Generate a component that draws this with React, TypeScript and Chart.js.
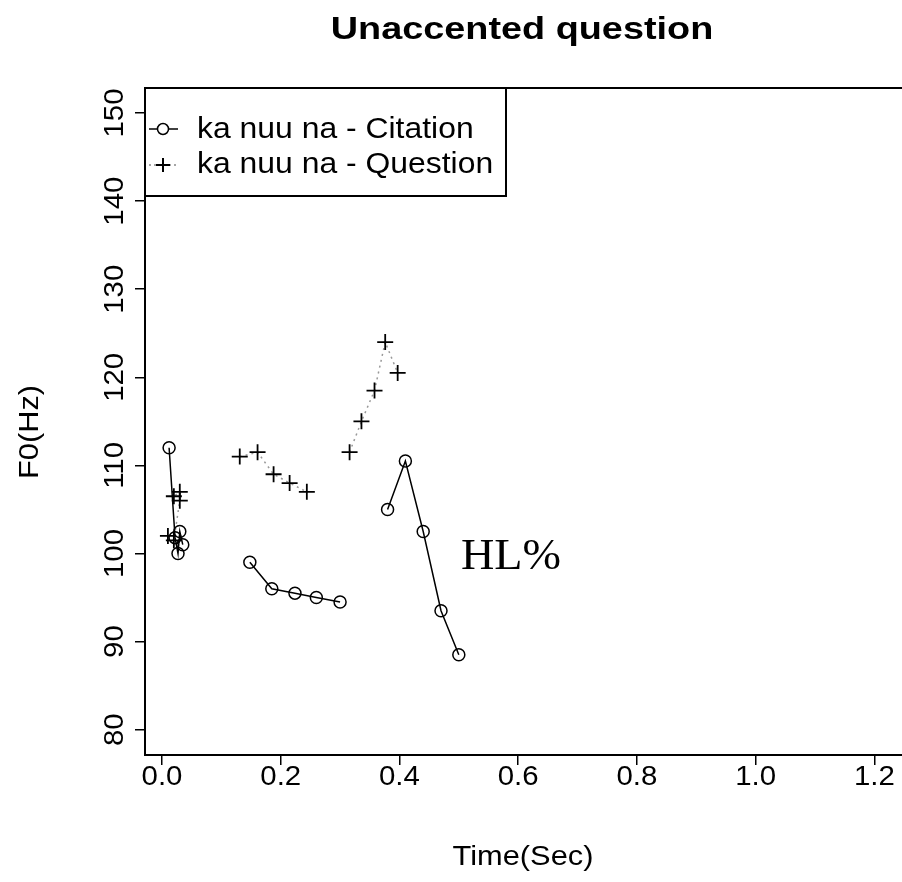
import { useEffect, useRef } from "react";
import { Chart, registerables } from "chart.js";

Chart.register(...registerables);

// null breaks the line between word segments
const citeX = [0.012, 0.022, 0.027, 0.03, 0.035, null, 0.148, 0.185, 0.224, 0.26, 0.3, null, 0.38, 0.41, 0.44, 0.47, 0.5];
const citeY = [112, 101.8, 100, 102.5, 101, null, 99, 96, 95.5, 95, 94.5, null, 105, 110.5, 102.5, 93.5, 88.5];
const questX = [0.01, 0.02, 0.03, 0.03, 0.02, null, 0.131, 0.161, 0.188, 0.215, 0.244, null, 0.316, 0.336, 0.358, 0.376, 0.397];
const questY = [102, 101.5, 106, 107, 106.5, null, 111, 111.5, 109, 108, 107, null, 111.5, 115, 118.5, 124, 120.5];
const xTicks = [0, 0.2, 0.4, 0.6, 0.8, 1.0, 1.2];
const yTicks = [80, 90, 100, 110, 120, 130, 140, 150];

const FONT = "'Liberation Sans', Arial, sans-serif";

const pts = (xs: (number | null)[], ys: (number | null)[]) =>
  xs.map((x, i) => (x === null ? { x: NaN, y: NaN } : { x, y: ys[i] as number }));

// text stretched horizontally a little, like the reference's scaled bitmap
function txt(ctx: any, s: string, x: number, y: number, font: string, sx: number, align: string, rot = 0) {
  ctx.save();
  ctx.translate(x, y);
  if (rot) ctx.rotate(rot);
  ctx.scale(sx, 1);
  ctx.font = font;
  ctx.textAlign = align;
  ctx.textBaseline = "middle";
  ctx.fillText(s, 0, 0);
  ctx.restore();
}

const decor = {
  id: "decor",
  afterDraw(chart: any) {
    const { ctx, chartArea: a, scales } = chart;
    ctx.save();
    ctx.strokeStyle = "#000";
    ctx.fillStyle = "#000";
    ctx.lineWidth = 2;
    ctx.strokeRect(a.left, a.top, 902 - a.left + 10, a.bottom - a.top);
    txt(ctx, "Unaccented question", 522, 30, `bold 31px ${FONT}`, 1.22, "center");
    txt(ctx, "Time(Sec)", 523, 857, `28px ${FONT}`, 1.1, "center");
    txt(ctx, "F0(Hz)", 30, 432, `28px ${FONT}`, 1.1, "center", -Math.PI / 2);
    xTicks.forEach((v) => txt(ctx, v.toFixed(1), scales.x.getPixelForValue(v), 777, `28px ${FONT}`, 1.05, "center"));
    yTicks.forEach((v) => txt(ctx, String(v), 115, scales.y.getPixelForValue(v), `28px ${FONT}`, 1.05, "center", -Math.PI / 2));
    txt(ctx, "HL%", 461, 557, `44px 'Liberation Serif', serif`, 1.05, "left");
    // legend box
    ctx.lineWidth = 2;
    ctx.strokeRect(a.left, a.top, 361, 108);
    txt(ctx, "ka nuu na - Citation", 197, 130, `29px ${FONT}`, 1.1, "left");
    txt(ctx, "ka nuu na - Question", 197, 165, `29px ${FONT}`, 1.1, "left");
    ctx.lineWidth = 1.5;
    ctx.beginPath();
    ctx.moveTo(149, 129);
    ctx.lineTo(178, 129);
    ctx.stroke();
    ctx.beginPath();
    ctx.arc(163, 129, 5.5, 0, Math.PI * 2);
    ctx.fillStyle = "#fff";
    ctx.fill();
    ctx.stroke();
    ctx.setLineDash([2, 3]);
    ctx.strokeStyle = "#888";
    ctx.beginPath();
    ctx.moveTo(149, 165);
    ctx.lineTo(178, 165);
    ctx.stroke();
    ctx.setLineDash([]);
    ctx.strokeStyle = "#000";
    ctx.lineWidth = 2;
    ctx.beginPath();
    ctx.moveTo(156, 165);
    ctx.lineTo(170, 165);
    ctx.moveTo(163, 158);
    ctx.lineTo(163, 172);
    ctx.stroke();
    ctx.restore();
  },
};

export default function App() {
  const canvasRef = useRef<HTMLCanvasElement>(null);

  useEffect(() => {
    const canvas = canvasRef.current;
    if (!canvas) return;
    const chart = new Chart(canvas, {
      type: "scatter",
      data: {
        datasets: [
          {
            label: "ka nuu na - Citation",
            data: pts(citeX, citeY),
            showLine: true,
            spanGaps: false,
            borderColor: "#000",
            borderWidth: 1.5,
            pointStyle: "circle",
            pointRadius: 6,
            pointBackgroundColor: "rgba(255,255,255,0)",
            pointBorderColor: "#000",
            pointBorderWidth: 1.5,
          },
          {
            label: "ka nuu na - Question",
            data: pts(questX, questY),
            showLine: true,
            spanGaps: false,
            borderColor: "#999",
            borderWidth: 1.5,
            borderDash: [2, 4],
            pointStyle: "cross",
            pointRadius: 8,
            pointBorderColor: "#000",
            pointBorderWidth: 1.8,
          },
        ],
      },
      options: {
        animation: false,
        responsive: false,
        layout: { padding: { top: 88, right: 0, left: 0, bottom: 0 } },
        plugins: { legend: { display: false }, tooltip: { enabled: false }, title: { display: false } },
        scales: {
          x: {
            type: "linear",
            min: -0.0286,
            max: 1.23,
            afterFit: (s: any) => { s.height = 127; s.paddingRight = 0; s.paddingLeft = 0; },
            afterBuildTicks: (s: any) => { s.ticks = xTicks.map((v) => ({ value: v })); },
            ticks: { display: false },
            grid: { drawOnChartArea: false, color: "#000", tickLength: 10, lineWidth: 1.5 },
            border: { color: "#000", width: 2 },
          },
          y: {
            min: 77.13,
            max: 152.84,
            afterFit: (s: any) => { s.width = 145; s.paddingTop = 0; s.paddingBottom = 0; },
            afterBuildTicks: (s: any) => { s.ticks = yTicks.map((v) => ({ value: v })); },
            ticks: { display: false },
            grid: { drawOnChartArea: false, color: "#000", tickLength: 10, lineWidth: 1.5 },
            border: { color: "#000", width: 2 },
          },
        },
      },
      plugins: [decor],
    });
    return () => chart.destroy();
  }, []);

  return (
    <div style={{ width: 902, height: 882, background: "#fff" }}>
      <canvas ref={canvasRef} width={902} height={882} style={{ display: "block", position: "absolute", left: 0, top: 0 }} />
    </div>
  );
}
